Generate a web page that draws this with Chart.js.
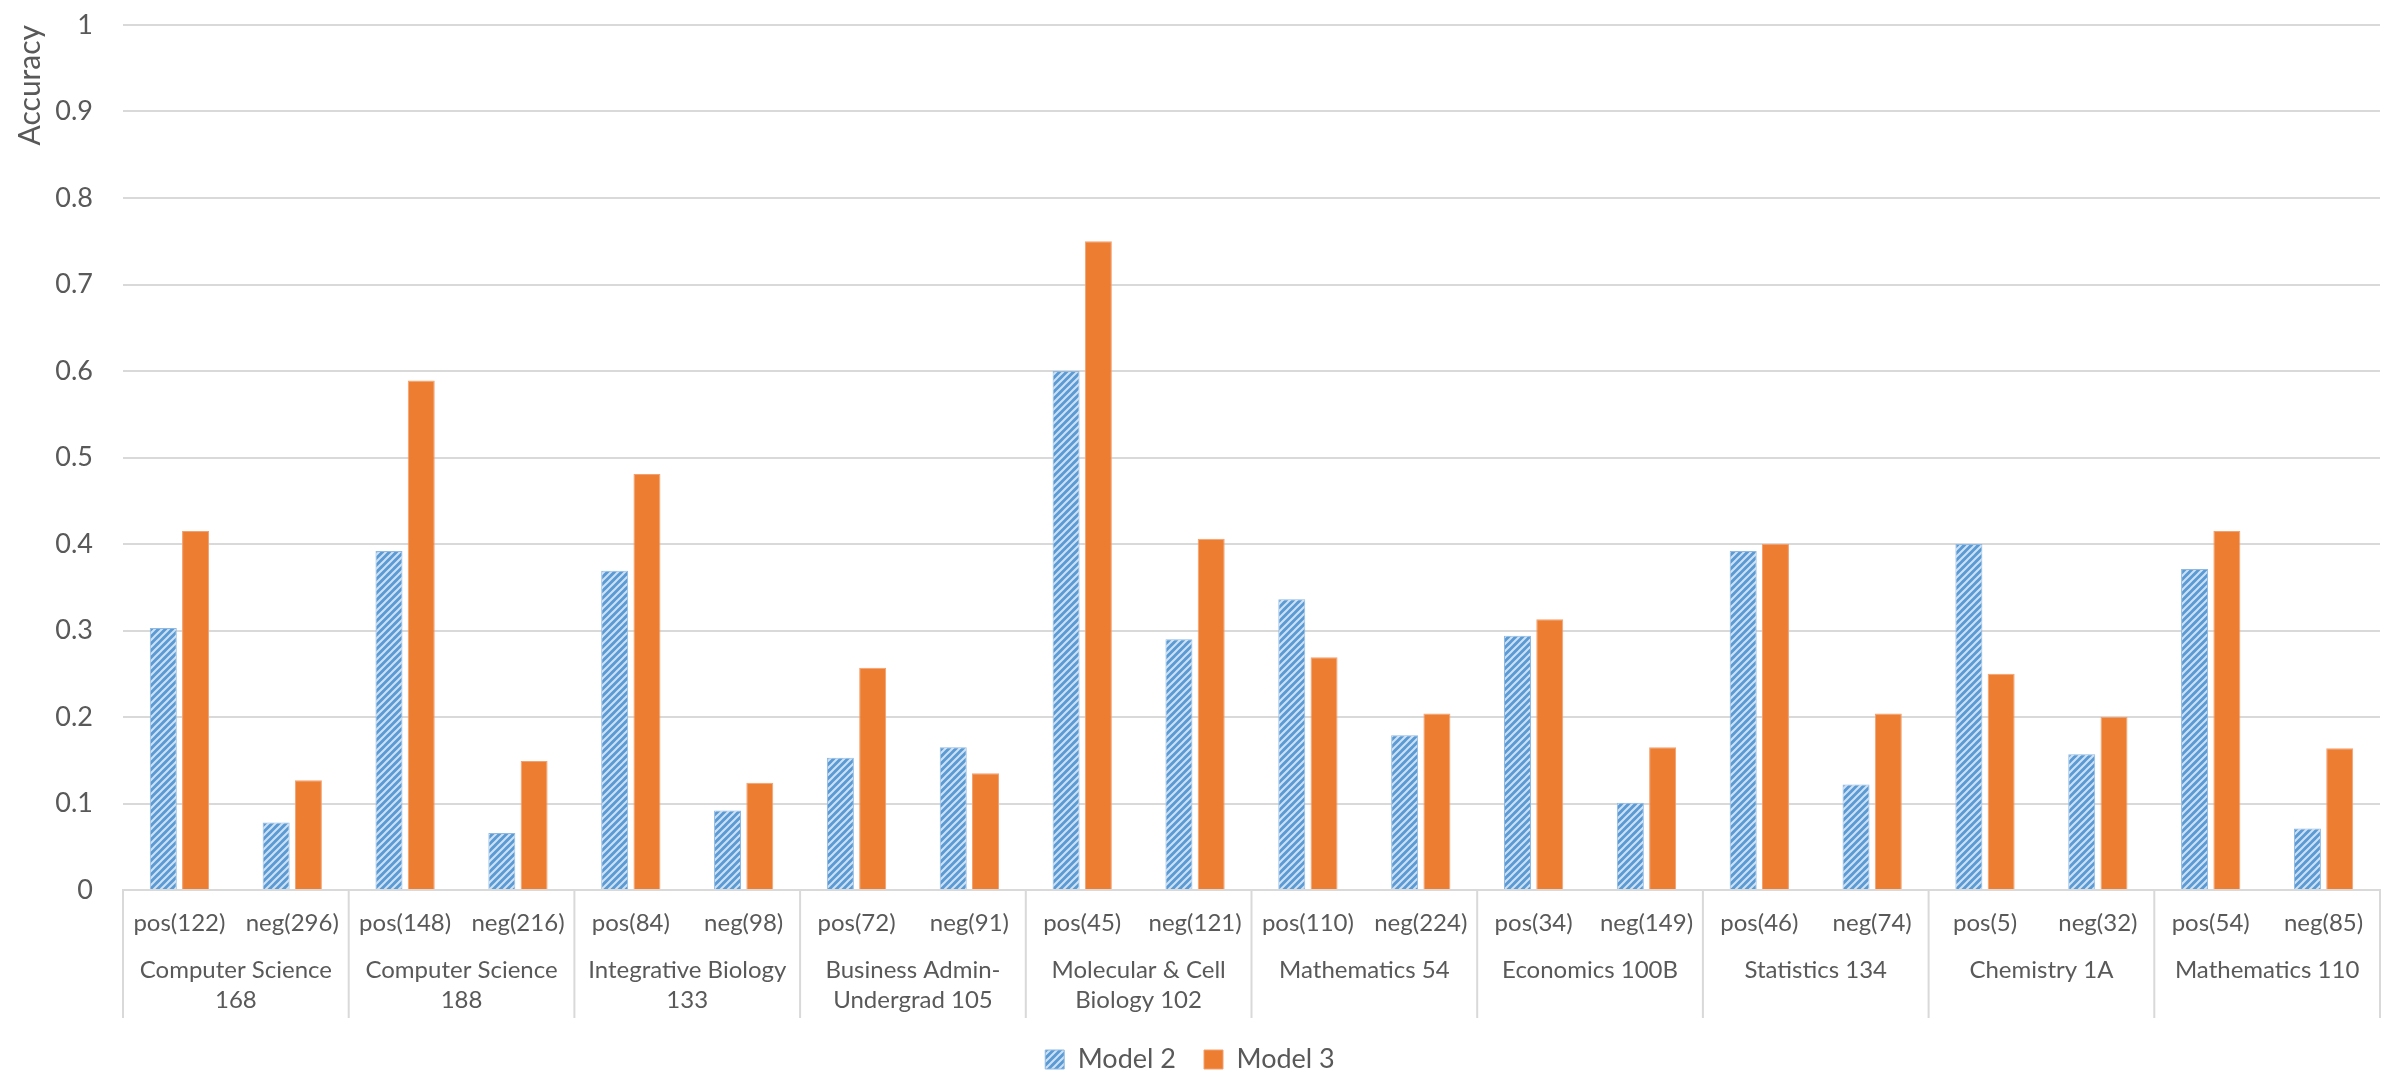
<!DOCTYPE html>
<html>
<head>
<meta charset="utf-8">
<script src="https://cdn.jsdelivr.net/npm/chart.js@4.4.1/dist/chart.umd.min.js"></script>
<style>
  html, body { margin: 0; padding: 0; background: #ffffff; }
  #wrap { width: 2403px; height: 1083px; position: relative; }
</style>
</head>
<body>
<div id="wrap"><canvas id="accuracy-chart"></canvas></div>
<script>
// chart values
const groupNames = [
  ['Computer Science', '168'],
  ['Computer Science', '188'],
  ['Integrative Biology', '133'],
  ['Business Admin-', 'Undergrad 105'],
  ['Molecular & Cell', 'Biology 102'],
  ['Mathematics 54'],
  ['Economics 100B'],
  ['Statistics 134'],
  ['Chemistry 1A'],
  ['Mathematics 110']
];
const subLabels = [
  'pos(122)', 'neg(296)', 'pos(148)', 'neg(216)', 'pos(84)', 'neg(98)',
  'pos(72)', 'neg(91)', 'pos(45)', 'neg(121)', 'pos(110)', 'neg(224)',
  'pos(34)', 'neg(149)', 'pos(46)', 'neg(74)', 'pos(5)', 'neg(32)',
  'pos(54)', 'neg(85)'
];
const model2 = [
  0.303, 0.078, 0.392, 0.066, 0.369, 0.092, 0.153, 0.165, 0.600, 0.290,
  0.336, 0.179, 0.294, 0.101, 0.392, 0.122, 0.400, 0.157, 0.371, 0.071
];
const model3 = [
  0.415, 0.127, 0.589, 0.149, 0.481, 0.124, 0.257, 0.135, 0.750, 0.406,
  0.269, 0.204, 0.313, 0.165, 0.400, 0.204, 0.250, 0.200, 0.415, 0.164
];

const FONT = "Lato, 'Open Sans', sans-serif";
const TEXT = '#595959';
const GRID = '#d9d9d9';

// blue with white upward diagonal stripes, like the Excel fill
function stripePattern() {
  const size = 7;
  const c = document.createElement('canvas');
  c.width = size; c.height = size;
  const g = c.getContext('2d');
  g.fillStyle = '#5b9bd5';
  g.fillRect(0, 0, size, size);
  g.strokeStyle = 'rgba(255,255,255,0.7)';
  g.lineWidth = 2;
  g.beginPath();
  g.moveTo(0, size); g.lineTo(size, 0);
  g.moveTo(-1, 1); g.lineTo(1, -1);
  g.moveTo(size - 1, size + 1); g.lineTo(size + 1, size - 1);
  g.stroke();
  return g.createPattern(c, 'repeat');
}

// separators between course groups in the axis area
const groupLines = {
  id: 'groupLines',
  afterDraw(chart) {
    const x = chart.scales.x;
    const x2 = chart.scales.x2;
    const area = chart.chartArea;
    const ctx = chart.ctx;
    ctx.save();
    ctx.strokeStyle = GRID;
    ctx.lineWidth = 2;
    ctx.beginPath();
    for (let k = 0; k <= groupNames.length; k++) {
      let px;
      if (k === 0) px = area.left;
      else if (k === groupNames.length) px = area.right;
      else px = (x.getPixelForTick(2 * k - 1) + x.getPixelForTick(2 * k)) / 2;
      ctx.moveTo(px, area.bottom);
      ctx.lineTo(px, x2.bottom);
    }
    ctx.stroke();
    ctx.restore();
  }
};

new Chart(document.getElementById('accuracy-chart'), {
  type: 'bar',
  data: {
    labels: subLabels,
    datasets: [{
      label: 'Model 2',
      data: model2,
      backgroundColor: stripePattern(),
      borderColor: '#8fb9e3',
      borderWidth: 1,
      categoryPercentage: 0.572,
      barPercentage: 0.836
    }, {
      label: 'Model 3',
      data: model3,
      backgroundColor: '#ed7d31',
      borderColor: '#f3a070',
      borderWidth: 1,
      categoryPercentage: 0.572,
      barPercentage: 0.836
    }]
  },
  options: {
    responsive: true,
    maintainAspectRatio: false,
    animation: false,
    layout: { padding: { left: 0, right: 23, top: 0, bottom: 0 } },
    plugins: {
      tooltip: { enabled: false },
      legend: {
        position: 'bottom',
        labels: {
          color: TEXT,
          boxWidth: 19,
          boxHeight: 19,
          padding: 28,
          font: { family: FONT, size: 27 }
        }
      }
    },
    scales: {
      y: {
        min: 0,
        max: 1,
        afterFit(scale) {
          scale.width = 123;
          scale.paddingTop = 25;
        },
        ticks: {
          stepSize: 0.1,
          color: TEXT,
          padding: 30,
          font: { family: FONT, size: 27 },
          callback: v => String(Math.round(v * 10) / 10)
        },
        grid: { color: GRID, lineWidth: 2, drawTicks: false },
        border: { display: false },
        title: {
          display: true,
          text: 'Accuracy',
          align: 'end',
          color: TEXT,
          padding: { top: 12, bottom: 0 },
          font: { family: FONT, size: 30 }
        }
      },
      x: {
        afterFit(scale) { scale.height = 48; },
        grid: { display: false, drawTicks: false },
        border: { display: true, color: GRID, width: 2 },
        ticks: {
          color: TEXT,
          padding: 19,
          maxRotation: 0,
          autoSkip: false,
          font: { family: FONT, size: 24 }
        }
      },
      x2: {
        type: 'category',
        position: 'bottom',
        labels: groupNames,
        afterFit(scale) { scale.height = 80; },
        grid: { display: false, drawTicks: false },
        border: { display: false },
        ticks: {
          color: TEXT,
          padding: 17,
          maxRotation: 0,
          autoSkip: false,
          font: { family: FONT, size: 24, lineHeight: 1.25 }
        }
      }
    }
  },
  plugins: [groupLines]
});
</script>
</body>
</html>
